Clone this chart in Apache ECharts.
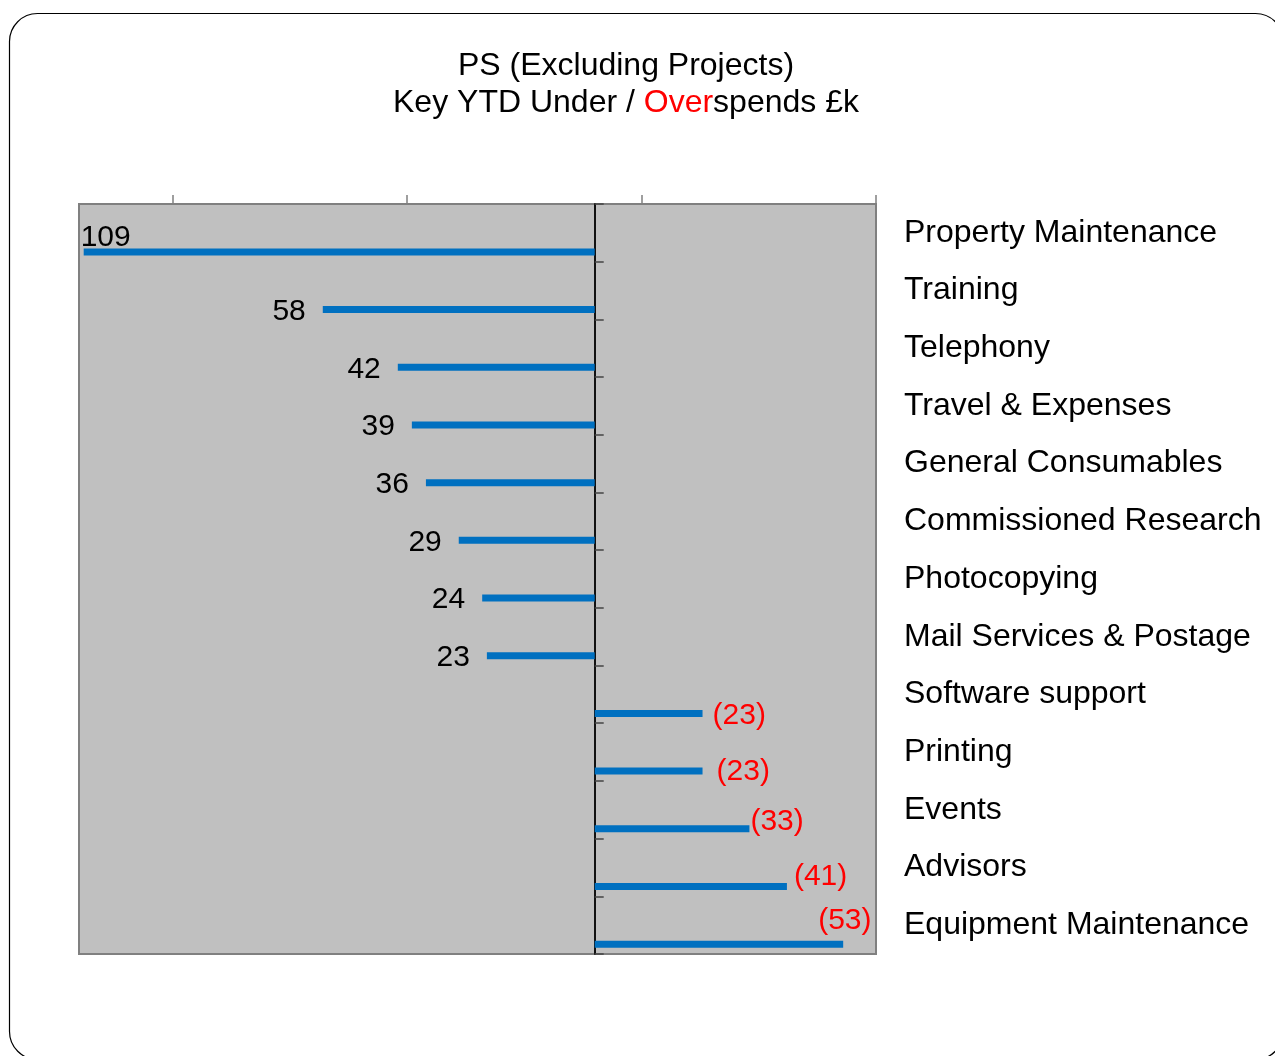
<!DOCTYPE html>
<html>
<head>
<meta charset="utf-8">
<script src="https://cdn.jsdelivr.net/npm/echarts@6/dist/echarts.min.js"></script>
<style>
  html, body { margin: 0; padding: 0; background: #fff; }
  #main { width: 1275px; height: 1056px; }
</style>
</head>
<body>
<div id="main"></div>
<script>
var chartDom = document.getElementById("main");
var myChart = echarts.init(chartDom);
var option;

// cost lines, top to bottom
const categories = [
  "Property Maintenance", "Training", "Telephony", "Travel & Expenses",
  "General Consumables", "Commissioned Research", "Photocopying",
  "Mail Services & Postage", "Software support", "Printing", "Events",
  "Advisors", "Equipment Maintenance"
];
// positive = underspend, negative = overspend (£k)
const variance = [109, 58, 42, 39, 36, 29, 24, 23, -23, -23, -33, -41, -53];

// top axis tick marks
const topTicks = [-60, -10, 40, 90];

// small hand nudges of the value labels [dx, dy]
const labelNudge = [
  [64, -16], [0, 0], [0, 0], [0, 0], [0, 0], [0, 0], [0, 0], [0, 0],
  [0, 0], [4, -1], [-9, -9], [-3, -12], [-35, -25]
];

const FONT = "Liberation Sans, Arial, sans-serif";

const seriesData = variance.map(function (v, i) {
  return [v, i];
});

option = {
  animation: false,
  backgroundColor: "#ffffff",
  title: {
    left: 626,
    top: 48,
    padding: 0,
    textAlign: "center",
    text: "{a|PS (Excluding Projects)}\n{a|Key YTD Under / }{r|Over}{a|spends £k}",
    textStyle: {
      fontFamily: FONT,
      fontWeight: "normal",
      rich: {
        a: { fontSize: 32, lineHeight: 37, color: "#000", fontFamily: FONT, fontWeight: "normal" },
        r: { fontSize: 32, lineHeight: 37, color: "#ff0000", fontFamily: FONT, fontWeight: "normal" }
      }
    }
  },
  grid: {
    left: 79,
    right: 399,
    top: 204,
    bottom: 102,
    show: true,
    backgroundColor: "#c0c0c0",
    borderColor: "#808080",
    borderWidth: 2
  },
  xAxis: {
    type: "value",
    position: "top",
    inverse: true,
    min: -60,
    max: 110,
    interval: 50,
    axisLine: { show: false },
    axisTick: {
      show: true,
      customValues: topTicks,
      length: 9,
      lineStyle: { color: "#808080", width: 1.5 }
    },
    axisLabel: { show: false },
    splitLine: { show: false }
  },
  yAxis: [
    {
      type: "category",
      inverse: true,
      data: categories,
      axisLine: { show: true, onZero: true, lineStyle: { color: "#111", width: 2 } },
      axisTick: { show: true, inside: true, length: 9, lineStyle: { color: "#444", width: 1.5 } },
      axisLabel: { show: false },
      splitLine: { show: false }
    },
    {
      type: "category",
      inverse: true,
      position: "right",
      data: categories,
      axisLine: { show: false },
      axisTick: { show: false },
      axisLabel: {
        show: true,
        margin: 28,
        align: "left",
        fontSize: 32,
        fontFamily: FONT,
        color: "#000",
        padding: [5, 0, 0, 0]
      },
      splitLine: { show: false }
    }
  ],
  graphic: [
    {
      type: "rect",
      silent: true,
      z: -10,
      shape: { x: 9.5, y: 13.5, width: 1274, height: 1046, r: 28 },
      style: { fill: "none", stroke: "#000", lineWidth: 1.2 }
    }
  ],
  series: [
    {
      type: "custom",
      xAxisIndex: 0,
      yAxisIndex: 0,
      data: seriesData,
      encode: { x: 0, y: 1 },
      z: 1,
      renderItem: function (params, api) {
        var v = api.value(0);
        var c = api.value(1);
        var p0 = api.coord([0, c]);
        var p1 = api.coord([v, c]);
        var band = api.size([0, 1])[1];
        var y = p0[1] + band * 0.33;
        var nudge = labelNudge[params.dataIndex] || [0, 0];
        var neg = v < 0;
        var txt = neg ? "(" + Math.abs(v) + ")" : String(v);
        return {
          type: "group",
          children: [
            {
              type: "rect",
              shape: {
                x: Math.min(p0[0], p1[0]),
                y: y - 3.5,
                width: Math.abs(p1[0] - p0[0]),
                height: 7
              },
              style: { fill: "#0070c0" }
            },
            {
              type: "text",
              x: (neg ? p1[0] + 10 : p1[0] - 17) + nudge[0],
              y: y + nudge[1] + 2,
              style: {
                text: txt,
                fill: neg ? "#ff0000" : "#000000",
                fontSize: 30,
                fontFamily: FONT,
                align: neg ? "left" : "right",
                verticalAlign: "middle"
              }
            }
          ]
        };
      }
    }
  ]
};

option && myChart.setOption(option);
</script>
</body>
</html>
